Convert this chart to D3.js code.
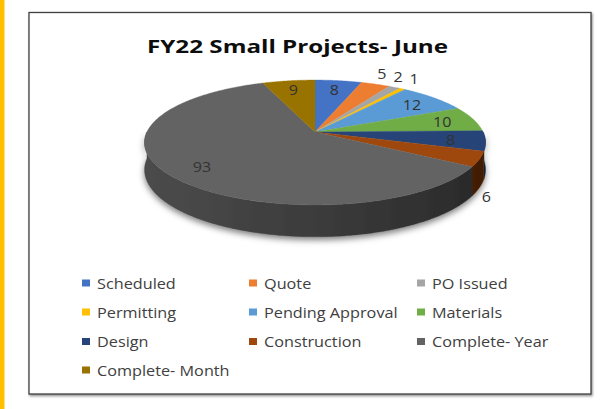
<!DOCTYPE html>
<html><head><meta charset="utf-8">
<script src="https://cdn.jsdelivr.net/npm/d3@7"></script>
<style>html,body{margin:0;padding:0;background:#fff;}svg{display:block;}</style>
</head><body>
<script>
const title = "FY22 Small Projects- June";
const categories = ["Scheduled","Quote","PO Issued","Permitting","Pending Approval","Materials","Design","Construction","Complete- Year","Complete- Month"];
const values = [8,5,2,1,12,10,8,6,93,9];
const colors = ["#4472C4","#ED7D31","#A5A5A5","#FFC000","#5B9BD5","#70AD47","#264478","#9E480E","#636363","#997300"];

const W = 614, H = 409;
const svg = d3.select("body").append("svg").attr("width", W).attr("height", H);
const defs = svg.append("defs");

// background, stripe, frame
svg.append("rect").attr("width", W).attr("height", H).attr("fill", "#fff");
svg.append("rect").attr("x", 0).attr("y", 0).attr("width", 4.5).attr("height", H).attr("fill", "#FFC000");
const fs = defs.append("filter").attr("id","frameShadow").attr("x","-5%").attr("y","-5%").attr("width","110%").attr("height","110%");
fs.append("feDropShadow").attr("dx",1).attr("dy",1.5).attr("stdDeviation",0.8).attr("flood-color","#000").attr("flood-opacity",0.45);
svg.append("rect").attr("x", 29).attr("y", 12.5).attr("width", 562).attr("height", 381.5)
  .attr("fill", "#fff").attr("stroke", "#3f3f3f").attr("stroke-width", 1.3).attr("filter","url(#frameShadow)");

// title
svg.append("text").attr("x", 297.5).attr("y", 53).attr("text-anchor","middle")
  .attr("font-family","'Open Sans', sans-serif").attr("font-weight","bold").attr("font-size",18)
  .attr("fill","#0d0d0d").attr("textLength", 301).attr("lengthAdjust","spacingAndGlyphs").text(title);

// 3D pie projection
const CX = 315, CY = 132, D = 5.95, F = 1000, G = 361, K = 158;
function proj(a, f, drop) {
  const X = f * Math.sin(a), Z = -f * Math.cos(a);
  return [CX + F * X / (D - Z), CY + (G * Z + drop * K) / (D - Z)];
}
function arcPts(a0, a1, f, drop) {
  const n = Math.max(2, Math.ceil((a1 - a0) / 0.01));
  return d3.range(n + 1).map(i => proj(a0 + (a1 - a0) * i / n, f, drop));
}
const pie = d3.pie().sort(null).startAngle(0).endAngle(2 * Math.PI);
const arcs = pie(values);
const color = d3.scaleOrdinal().domain(categories).range(colors);
const line = d3.line();

// side gradients
arcs.forEach((d, i) => {
  const c = color(categories[i]);
  const g = defs.append("linearGradient").attr("id", "side" + i).attr("gradientUnits","userSpaceOnUse")
    .attr("x1", CX - 175).attr("x2", CX + 175).attr("y1", 0).attr("y2", 0);
  g.append("stop").attr("offset", "0").attr("stop-color", d3.color(c).darker(0.75));
  g.append("stop").attr("offset", "0.55").attr("stop-color", d3.color(c).darker(1.5));
  g.append("stop").attr("offset", "1").attr("stop-color", d3.color(c).darker(2.5));
});
const ps = defs.append("filter").attr("id","pieShadow").attr("x","-10%").attr("y","-10%").attr("width","120%").attr("height","130%");
ps.append("feDropShadow").attr("dx",0).attr("dy",3).attr("stdDeviation",3).attr("flood-color","#000").attr("flood-opacity",0.5);

const sides = svg.append("g").attr("filter","url(#pieShadow)");
arcs.forEach((d, i) => {
  const a0 = Math.max(d.startAngle, Math.PI / 2), a1 = Math.min(d.endAngle, 3 * Math.PI / 2);
  if (a1 <= a0) return;
  const top = arcPts(a0, a1, 1, 0), bot = arcPts(a0, a1, 1, 1).reverse();
  sides.append("path").attr("d", line(top.concat(bot)) + "Z").attr("fill", "url(#side" + i + ")")
    .attr("stroke", "url(#side" + i + ")").attr("stroke-width", 0.4);
});

const tops = svg.append("g");
arcs.forEach((d, i) => {
  const pts = [proj(0, 0, 0)].concat(arcPts(d.startAngle, d.endAngle, 1, 0));
  tops.append("path").attr("d", line(pts) + "Z").attr("fill", color(categories[i]))
    .attr("stroke", color(categories[i])).attr("stroke-width", 0.4);
});

// data labels
const labelFont = "'Open Sans', sans-serif";
const labels = arcs.map((d, i) => {
  const mid = (d.startAngle + d.endAngle) / 2;
  const outside = d.value < 7;
  let p;
  if (!outside) p = proj(mid, 0.8, 0);
  else if (Math.cos(mid) > 0) { p = proj(mid, 1.22, 0); }
  else p = proj(mid, 1.04, 1.27);
  return {v: d.value, x: p[0], y: p[1], outside, back: outside && Math.cos(mid) > 0};
});
// simple collision avoidance for top outside labels
const backL = labels.filter(l => l.back).sort((a, b) => b.x - a.x);
for (let k = 1; k < backL.length; k++) backL[k].x = Math.min(backL[k].x, backL[k - 1].x - 16);
backL.forEach(l => { l.x -= 5; l.y -= 2; });
labels.forEach(l => {
  svg.append("text").attr("transform", `translate(${l.x},${l.y}) scale(1.15,1)`)
    .attr("text-anchor","middle").attr("dominant-baseline","central")
    .attr("font-family", labelFont).attr("font-size", 14).attr("fill", "#333").text(l.v);
});

// legend
const colX = [82, 249, 417], rowY = [283, 312, 341.5, 370];
const leg = svg.append("g").selectAll("g").data(categories).join("g")
  .attr("transform", (d, i) => `translate(${colX[i % 3]},${rowY[Math.floor(i / 3)]})`);
leg.append("rect").attr("x", 0).attr("y", -3.5).attr("width", 8).attr("height", 7).attr("fill", d => color(d));
leg.append("text").attr("transform", "translate(15,0) scale(1.16,1)").attr("dominant-baseline","central")
  .attr("font-family", labelFont).attr("font-size", 14).attr("fill", "#404040").text(d => d);
</script>
</body></html>
